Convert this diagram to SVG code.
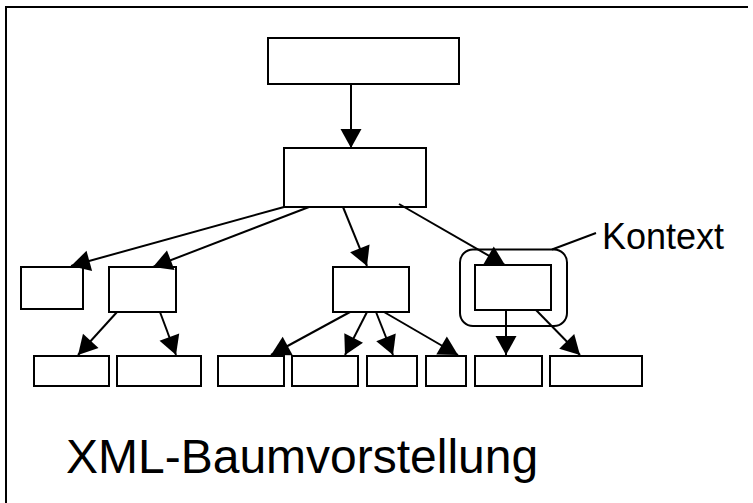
<svg xmlns="http://www.w3.org/2000/svg" width="753" height="503" viewBox="0 0 753 503">
  <style>
    .box { fill: #fff; stroke: #000; stroke-width: 2; }
    .edge { fill: none; stroke: #000; stroke-width: 2; marker-end: url(#head); }
    .lbl { font-family: "Liberation Sans", Arial, sans-serif; fill: #000; }
  </style>
  <defs>
    <marker id="head" markerUnits="userSpaceOnUse" markerWidth="20" markerHeight="22" refX="19" refY="10.5" orient="auto" overflow="visible">
      <path d="M0,0 L19,10.5 L0,21 Z" fill="#000"/>
    </marker>
  </defs>

  <rect width="753" height="503" fill="#fff"/>

  <!-- frame -->
  <path d="M6,503 V7 H748" fill="none" stroke="#000" stroke-width="2"/>

  <!-- tree nodes -->
  <g id="root"><rect class="box" x="268" y="38" width="191" height="46"/></g>
  <g id="n-main"><rect class="box" x="284" y="148" width="142" height="59"/></g>
  <g id="n-a"><rect class="box" x="21" y="267" width="62" height="42"/></g>
  <g id="n-b"><rect class="box" x="109" y="267" width="67" height="45"/></g>
  <g id="n-c"><rect class="box" x="333" y="267" width="76" height="45"/></g>
  <g id="n-context">
    <rect x="460" y="249.5" width="107" height="76.5" rx="13" fill="none" stroke="#000" stroke-width="2"/>
    <rect class="box" x="475" y="265" width="76" height="45"/>
  </g>
  <g id="leaf-1"><rect class="box" x="34" y="356" width="75" height="30"/></g>
  <g id="leaf-2"><rect class="box" x="117" y="356" width="84" height="30"/></g>
  <g id="leaf-3"><rect class="box" x="218" y="356" width="66" height="30"/></g>
  <g id="leaf-4"><rect class="box" x="292" y="356" width="66" height="30"/></g>
  <g id="leaf-5"><rect class="box" x="367" y="356" width="50" height="30"/></g>
  <g id="leaf-6"><rect class="box" x="426" y="356" width="40" height="30"/></g>
  <g id="leaf-7"><rect class="box" x="475" y="356" width="67" height="30"/></g>
  <g id="leaf-8"><rect class="box" x="550" y="356" width="92" height="30"/></g>

  <!-- connectors -->
  <g id="connectors">
    <line class="edge" x1="351" y1="84" x2="351" y2="148"/>
    <line class="edge" x1="284" y1="207" x2="71" y2="266"/>
    <line class="edge" x1="309" y1="207" x2="153" y2="267"/>
    <line class="edge" x1="343" y1="207" x2="367" y2="266"/>
    <line class="edge" x1="399" y1="204" x2="505" y2="265"/>
    <line class="edge" x1="117" y1="312" x2="78" y2="355"/>
    <line class="edge" x1="160" y1="312" x2="176" y2="355"/>
    <line class="edge" x1="350" y1="312" x2="271" y2="355"/>
    <line class="edge" x1="367" y1="312" x2="345" y2="355"/>
    <line class="edge" x1="376" y1="312" x2="393" y2="355"/>
    <line class="edge" x1="384" y1="312" x2="458" y2="355"/>
    <line class="edge" x1="506" y1="310" x2="506" y2="355"/>
    <line class="edge" x1="536" y1="310" x2="580" y2="355"/>
    <line x1="552" y1="249.5" x2="596" y2="233" stroke="#000" stroke-width="2"/>
  </g>

  <!-- labels -->
  <text class="lbl" x="602" y="249" font-size="36">Kontext</text>
  <text class="lbl" x="66" y="473" font-size="48">XML-Baumvorstellung</text>
</svg>
